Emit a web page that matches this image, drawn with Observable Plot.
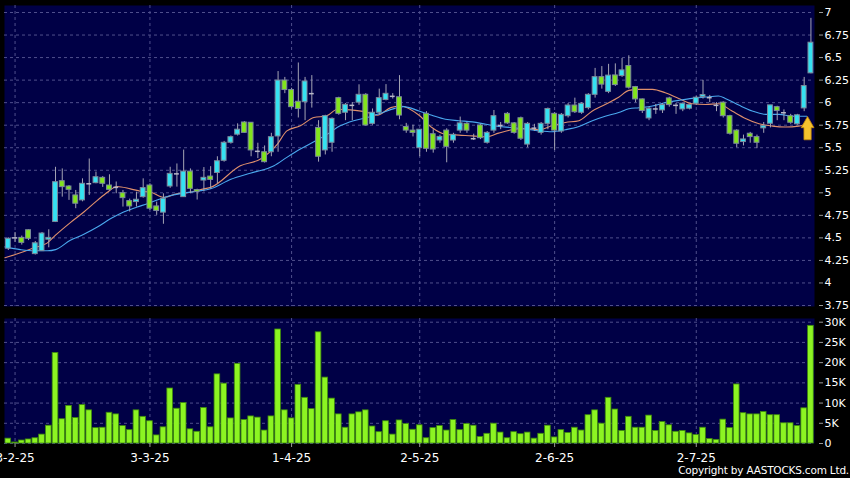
<!DOCTYPE html>
<html><head><meta charset="utf-8">
<script src="https://cdn.jsdelivr.net/npm/d3@7"></script>
<script src="https://cdn.jsdelivr.net/npm/@observablehq/plot@0.6"></script>
<style>
html,body{margin:0;padding:0;background:#000;}
#wrap{position:relative;width:850px;height:478px;background:#000;overflow:hidden;font-family:"DejaVu Sans",sans-serif;}
#top{position:absolute;left:0;top:0;}
#bottom{position:absolute;left:0;top:312px;}
#copy{position:absolute;right:1px;top:464px;color:#fff;font-size:10.5px;line-height:12px;letter-spacing:-0.2px;white-space:nowrap;}
</style></head>
<body><div id="wrap"><div id="top"></div><div id="bottom"></div><div id="copy">Copyright by AASTOCKS.com Ltd.</div></div>
<script>
// ---- data ----
const opens = [4.38,4.50,4.50,4.585,4.32,4.353,4.48,4.677,5.129,5.07,
4.971,4.916,5.10,5.107,5.166,5.081,5.06,4.996,4.908,4.897,
4.952,5.081,4.849,4.78,5.07,5.21,4.952,5.235,5.03,5.136,
5.18,5.22,5.355,5.555,5.645,5.78,5.777,5.46,5.45,5.45,
5.625,6.245,6.14,6.01,6.005,6.10,5.72,5.47,5.555,6.05,
5.888,5.97,6.0,6.087,5.765,5.888,6.03,6.07,6.06,5.73,
5.69,5.495,5.876,5.65,5.58,5.69,5.58,5.69,5.765,5.60,
5.747,5.555,5.69,5.747,5.876,5.77,5.827,5.535,5.717,5.665,
5.765,5.876,5.68,5.85,5.968,5.888,5.94,6.087,6.283,6.12,
6.302,6.295,6.406,6.173,6.036,5.825,5.93,5.914,6.047,5.97,
5.925,5.933,5.988,6.062,6.055,5.97,6.0,5.85,5.69,5.563,
5.655,5.618,5.715,5.766,5.95,5.888,5.85,5.76,5.936,6.325];
const highs = [4.50,4.56,4.52,4.59,4.46,4.56,4.59,5.283,5.265,5.08,
5.026,5.155,5.375,5.23,5.18,5.20,5.12,5.026,4.93,5.007,
5.155,5.10,4.897,4.989,5.283,5.32,5.474,5.265,5.04,5.28,
5.29,5.40,5.57,5.63,5.765,5.79,5.78,5.55,5.52,5.66,
6.345,6.28,6.16,6.44,6.28,6.30,5.80,5.86,5.83,6.06,
5.99,6.0,6.198,6.10,5.93,6.15,6.20,6.10,6.30,5.77,
5.75,5.70,5.90,5.70,5.64,5.71,5.66,5.84,5.78,5.65,
5.76,5.68,5.913,5.78,5.89,5.78,5.84,5.78,5.76,5.78,
5.94,5.89,5.88,5.99,6.05,6.0,6.10,6.38,6.40,6.425,
6.43,6.49,6.52,6.18,6.04,5.95,5.98,5.99,6.06,5.99,
5.99,5.98,6.07,6.247,6.08,6.0,6.01,5.86,5.70,5.64,
5.67,5.64,5.78,5.97,5.96,5.92,5.87,5.87,6.28,6.935];
const lows = [4.36,4.45,4.42,4.47,4.31,4.35,4.39,4.67,4.952,4.916,
4.824,4.90,4.971,5.10,5.06,5.02,4.99,4.842,4.787,4.842,
4.94,4.805,4.75,4.651,5.05,5.063,4.95,4.99,4.92,5.01,
5.04,5.10,5.34,5.54,5.63,5.66,5.40,5.38,5.33,5.40,
5.45,6.10,5.93,5.83,5.80,5.94,5.34,5.42,5.45,5.86,
5.80,5.80,5.97,5.74,5.75,5.86,6.02,6.04,5.81,5.66,
5.62,5.40,5.45,5.44,5.55,5.333,5.55,5.66,5.66,5.58,
5.59,5.54,5.66,5.70,5.76,5.65,5.58,5.50,5.68,5.64,
5.70,5.47,5.66,5.83,5.88,5.87,5.92,6.05,6.15,6.10,
6.18,6.28,6.15,6.00,5.88,5.80,5.87,5.88,5.95,5.87,
5.90,5.92,5.97,6.04,6.0,5.90,5.83,5.64,5.50,5.52,
5.55,5.49,5.66,5.72,5.80,5.80,5.76,5.75,5.90,6.32];
const closes = [4.49,4.50,4.445,4.49,4.44,4.548,4.50,5.118,5.063,5.033,
4.879,5.10,5.10,5.173,5.10,5.033,5.06,4.941,4.849,4.923,
5.052,4.824,4.798,4.934,5.21,5.21,5.235,5.044,5.01,5.166,
5.143,5.35,5.555,5.617,5.70,5.665,5.47,5.46,5.34,5.617,
6.245,6.14,5.95,5.93,6.235,6.10,5.40,5.85,5.82,5.876,
5.976,5.97,6.087,5.747,5.888,6.05,6.098,6.07,5.857,5.69,
5.665,5.70,5.488,5.48,5.62,5.51,5.643,5.77,5.69,5.60,
5.606,5.665,5.85,5.747,5.77,5.665,5.60,5.765,5.717,5.765,
5.93,5.69,5.865,5.968,5.894,5.987,6.087,6.283,6.20,6.30,
6.195,6.358,6.166,6.036,5.907,5.933,5.93,5.973,5.973,5.97,
5.988,5.973,6.055,6.084,6.055,5.97,5.85,5.655,5.544,5.592,
5.618,5.555,5.74,5.97,5.907,5.888,5.777,5.86,6.184,6.665];
// volume in thousands of shares
const volumesK = [1.2,0.25,0.74,1.0,1.3,2.2,4.4,22.4,6.0,9.3,
6.3,9.5,8.2,3.8,3.9,7.6,7.2,4.3,3.3,8.2,
6.6,5.5,2.0,4.0,13.6,8.6,10.0,3.5,2.9,8.8,
4.0,17.1,14.8,6.2,19.7,5.8,6.7,6.4,3.2,6.7,
28.2,8.2,6.2,14.5,11.3,8.5,27.5,16.3,11.1,7.2,
3.9,7.2,7.7,8.2,4.2,2.8,5.5,2.2,5.7,4.8,
3.4,4.5,1.3,3.8,4.3,3.2,5.8,3.3,4.8,4.4,
1.6,2.4,4.9,2.7,1.3,2.8,2.3,2.7,1.2,2.4,
4.4,1.5,3.3,2.6,3.9,3.2,7.0,8.2,4.9,11.3,
8.4,3.1,6.6,3.9,3.9,6.9,3.1,5.3,4.5,2.9,
3.1,2.5,2.1,3.9,1.1,0.9,5.9,3.8,14.6,7.5,
7.2,7.2,7.8,7.0,7.0,5.0,5.0,4.3,8.7,29.1];
// moving averages read at sampled bar positions [bar index, price]
const maShort = [[-0.5,4.28],[1.8,4.335],[3.8,4.39],[5.8,4.445],[7,4.53],[9.2,4.67],[11.2,4.787],[13.2,4.916],[14.7,5.007],[16.1,5.07],[18.1,5.044],[19.6,5.018],[21.1,5.007],[23.1,4.95],[25,4.99],[27,5.007],[29,5.044],[30,5.06],
[34.4,5.30],[37.4,5.375],[39.9,5.54],[41.3,5.687],[43.3,5.743],[45.3,5.835],[47.2,5.853],[48.8,5.927],[50.7,5.92],[53,5.897],[54.7,5.86],[56.7,5.945],[58.1,5.963],
[60.9,5.86],[62.8,5.724],[64.8,5.65],[66.8,5.64],[68.8,5.632],[70.8,5.621],[72.7,5.662],[74.7,5.70],[76.7,5.713],[78.7,5.70],[80.6,5.743],[82.6,5.78],[84.6,5.80],[86.6,5.908],[88.5,5.98],[90.5,6.06],
[92,6.136],[93.5,6.147],[95.5,6.147],[97.4,6.11],[99.4,6.047],[101.4,5.988],[103.4,5.98],[105.3,5.988],[107.3,5.907],[109.3,5.825],[111.3,5.766],[113.3,5.74],[115.2,5.73],[117.2,5.74],[118.4,5.76]];
const maLong = [[-0.5,4.40],[1.8,4.37],[3.8,4.357],[5.8,4.357],[7,4.37],[9.2,4.474],[11.2,4.54],[13.2,4.62],[15.2,4.714],[17.1,4.787],[19.1,4.842],[20.6,4.879],[22.6,4.934],[24.1,4.97],[26,4.996],[28,5.018],[30,5.044],
[33,5.15],[36,5.22],[39.4,5.30],[41.3,5.393],[43.3,5.485],[45.3,5.566],[47.3,5.65],[49.2,5.743],[51.2,5.80],[53.2,5.835],[55.2,5.883],[57.2,5.934],[58.6,5.956],
[60.9,5.908],[62.8,5.86],[64.8,5.816],[66.8,5.80],[68.8,5.787],[70.8,5.76],[72.7,5.735],[74.7,5.724],[76.7,5.706],[78.7,5.687],[80.6,5.677],[82.6,5.70],[84.6,5.735],[86.6,5.80],[88.5,5.85],[90.5,5.89],
[92,5.933],[93.5,5.944],[95.5,5.962],[97.4,6.0],[99.4,6.025],[101.4,6.047],[103.4,6.062],[105.3,6.073],[106.3,6.047],[108.3,5.973],[110.3,5.907],[112.3,5.87],[114.3,5.87],[116.2,5.85],[118.4,5.85]];
const dateTickIndex = [1,21,42,61,81,102];
const dateTickLabels = ["3-2-25","3-3-25","1-4-25","2-5-25","2-6-25","2-7-25"];
const priceTicks = [3.75,4,4.25,4.5,4.75,5,5.25,5.5,5.75,6,6.25,6.5,6.75,7];
const volumeTicks = [0,5000,10000,15000,20000,25000,30000];
const arrowAt = [{k:118.5, price:5.718}];

// ---- styling ----
const NAVY = "#000046", GRID = "#4f4f8c", WICK = "#a4a4b4", OUTLINE = "#7c8a9c";
const UP = "#35e2f2", DOWN = "#82e41c", DOJI = "#b8b8c8";
const VOL = "#8cf422", VOL_EDGE = "#3e8a0c";
const MA_S = "#e0906c", MA_L = "#4aa8ee";

const bars = opens.map((o, i) => ({k: i, open: o, high: highs[i], low: lows[i], close: closes[i], volume: volumesK[i] * 1000}));
const bodies = bars.filter(d => d.open !== d.close);
const dojis = bars.filter(d => d.open === d.close);
const HW = 0.36, VW = 0.42;

const arrowSymbol = {
  draw(ctx, size) {
    const s = Math.sqrt(size / Math.PI) / 12;
    ctx.moveTo(0, -11.6 * s);
    ctx.lineTo(6.4 * s, -0.4 * s);
    ctx.lineTo(3.6 * s, -0.4 * s);
    ctx.lineTo(3.6 * s, 11.7 * s);
    ctx.lineTo(-3.6 * s, 11.7 * s);
    ctx.lineTo(-3.6 * s, -0.4 * s);
    ctx.lineTo(-6.4 * s, -0.4 * s);
    ctx.closePath();
  }
};

const X_RANGE = [4.43, 813.8];
const fmtPrice = d => String(+d.toFixed(2));

const topChart = Plot.plot({
  width: 850, height: 312,
  marginLeft: 4, marginRight: 36, marginTop: 5, marginBottom: 6,
  style: {background: "transparent", color: "#fff", fontFamily: "DejaVu Sans", fontSize: "11px"},
  x: {type: "linear", domain: [-0.5, 119.5], range: X_RANGE, axis: null},
  y: {type: "linear", domain: [3.75, 7], range: [305, 12], axis: null},
  marks: [
    Plot.frame({fill: NAVY, stroke: "none"}),
    Plot.ruleY(priceTicks, {stroke: GRID, strokeDasharray: "3,3"}),
    Plot.ruleX(dateTickIndex, {stroke: GRID, strokeDasharray: "3,3"}),
    Plot.axisY(priceTicks, {anchor: "right", label: null, tickSize: 4, tickPadding: 2, dx: 4, stroke: "#9a9a9a", fill: "#fff", fontSize: 11, tickFormat: fmtPrice}),
    Plot.line(maShort, {x: d => d[0], y: d => d[1], stroke: MA_S, strokeWidth: 1.1, curve: "monotone-x"}),
    Plot.line(maLong, {x: d => d[0], y: d => d[1], stroke: MA_L, strokeWidth: 1.1, curve: "monotone-x"}),
    Plot.ruleX(bars, {x: "k", y1: "low", y2: "high", stroke: WICK, strokeWidth: 1}),
    Plot.rect(bodies, {x1: d => d.k - HW, x2: d => d.k + HW, y1: "open", y2: "close",
      fill: d => d.close > d.open ? UP : DOWN, stroke: OUTLINE, strokeWidth: 1}),
    Plot.ruleY(dojis, {y: "close", x1: d => d.k - HW, x2: d => d.k + HW, stroke: DOJI, strokeWidth: 1.5}),
    Plot.dot(arrowAt, {x: "k", y: "price", r: 12, symbol: arrowSymbol, fill: "#f6c22e", stroke: "#c88a08", strokeWidth: 0.8})
  ]
});
document.getElementById("top").append(topChart);

const bottomChart = Plot.plot({
  width: 850, height: 166,
  marginLeft: 4, marginRight: 36, marginTop: 6, marginBottom: 35,
  style: {background: "transparent", color: "#fff", fontFamily: "DejaVu Sans", fontSize: "12px"},
  x: {type: "linear", domain: [-0.5, 119.5], range: X_RANGE, axis: null},
  y: {type: "linear", domain: [0, 30000], range: [131, 9.7], axis: null},
  marks: [
    Plot.frame({fill: NAVY, stroke: "none"}),
    Plot.ruleY(volumeTicks, {stroke: GRID, strokeDasharray: "3,3"}),
    Plot.ruleX(dateTickIndex, {stroke: GRID, strokeDasharray: "3,3"}),
    Plot.rect(bars, {x1: d => d.k - VW, x2: d => d.k + VW, y1: 0, y2: "volume", fill: VOL, stroke: VOL_EDGE, strokeWidth: 0.8}),
    Plot.axisY(volumeTicks, {anchor: "right", label: null, tickSize: 4, tickPadding: 2, dx: 4, stroke: "#9a9a9a", fill: "#fff", fontSize: 11,
      tickFormat: d => d === 0 ? "0" : (d / 1000) + "K"}),
    Plot.axisX(dateTickIndex, {anchor: "bottom", label: null, tickSize: 4, tickPadding: 6, stroke: "#9a9a9a", fill: "#fff", fontSize: 12,
      tickFormat: d => dateTickLabels[dateTickIndex.indexOf(d)]})
  ]
});
document.getElementById("bottom").append(bottomChart);
</script>
</body></html>
